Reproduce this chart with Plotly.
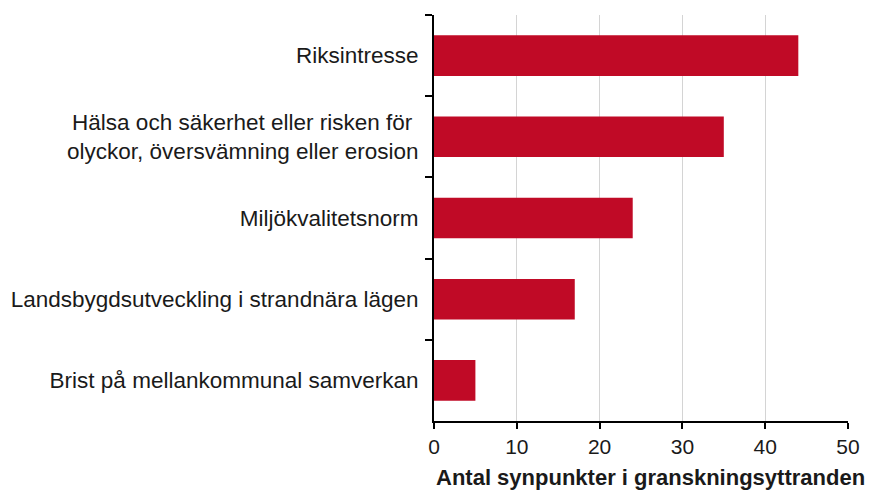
import plotly.graph_objects as go

categories = [
    "Riksintresse",
    "Hälsa och säkerhet eller risken för <br>olyckor, översvämning eller erosion",
    "Miljökvalitetsnorm",
    "Landsbygdsutveckling i strandnära lägen",
    "Brist på mellankommunal samverkan",
]
values = [44, 35, 24, 17, 5]
x_ticks = [0, 10, 20, 30, 40, 50]
x_title = "Antal synpunkter i granskningsyttranden"

font = "Liberation Sans, Arial, sans-serif"

fig = go.Figure(go.Bar(
    x=values, y=categories, orientation="h",
    marker=dict(color="#C00A26", line=dict(width=0)),
    width=0.5,
))

fig.update_layout(
    width=882, height=493,
    margin=dict(l=434, r=34, t=15, b=72),
    plot_bgcolor="white", paper_bgcolor="white",
    showlegend=False,
    font=dict(family=font, size=21, color="#1a1a1a"),
)
fig.update_xaxes(
    range=[0, 50], tickvals=x_ticks,
    showgrid=True, gridcolor="#d4d4d4", gridwidth=1,
    showline=True, linecolor="black", linewidth=2,
    ticks="outside", ticklen=6, tickwidth=2, tickcolor="black",
    tickfont=dict(size=21),
    zeroline=False,
)
fig.update_yaxes(
    type="category", autorange="reversed",
    showline=True, linecolor="black", linewidth=2,
    ticks="outside", tickson="boundaries", ticklen=7, tickwidth=2, tickcolor="black",
    showgrid=False, ticklabelstandoff=9,
    tickfont=dict(size=22.5),
)
fig.add_annotation(
    text="<b>" + x_title + "</b>",
    xref="paper", yref="paper", x=0.524, y=-0.14,
    xanchor="center", yanchor="middle", showarrow=False,
    font=dict(size=22, family=font, color="#1a1a1a"),
)

fig.write_html(
    "out.html",
    config={"displayModeBar": False},
    post_script="document.body.style.margin='0';document.body.style.overflow='hidden';",
)
